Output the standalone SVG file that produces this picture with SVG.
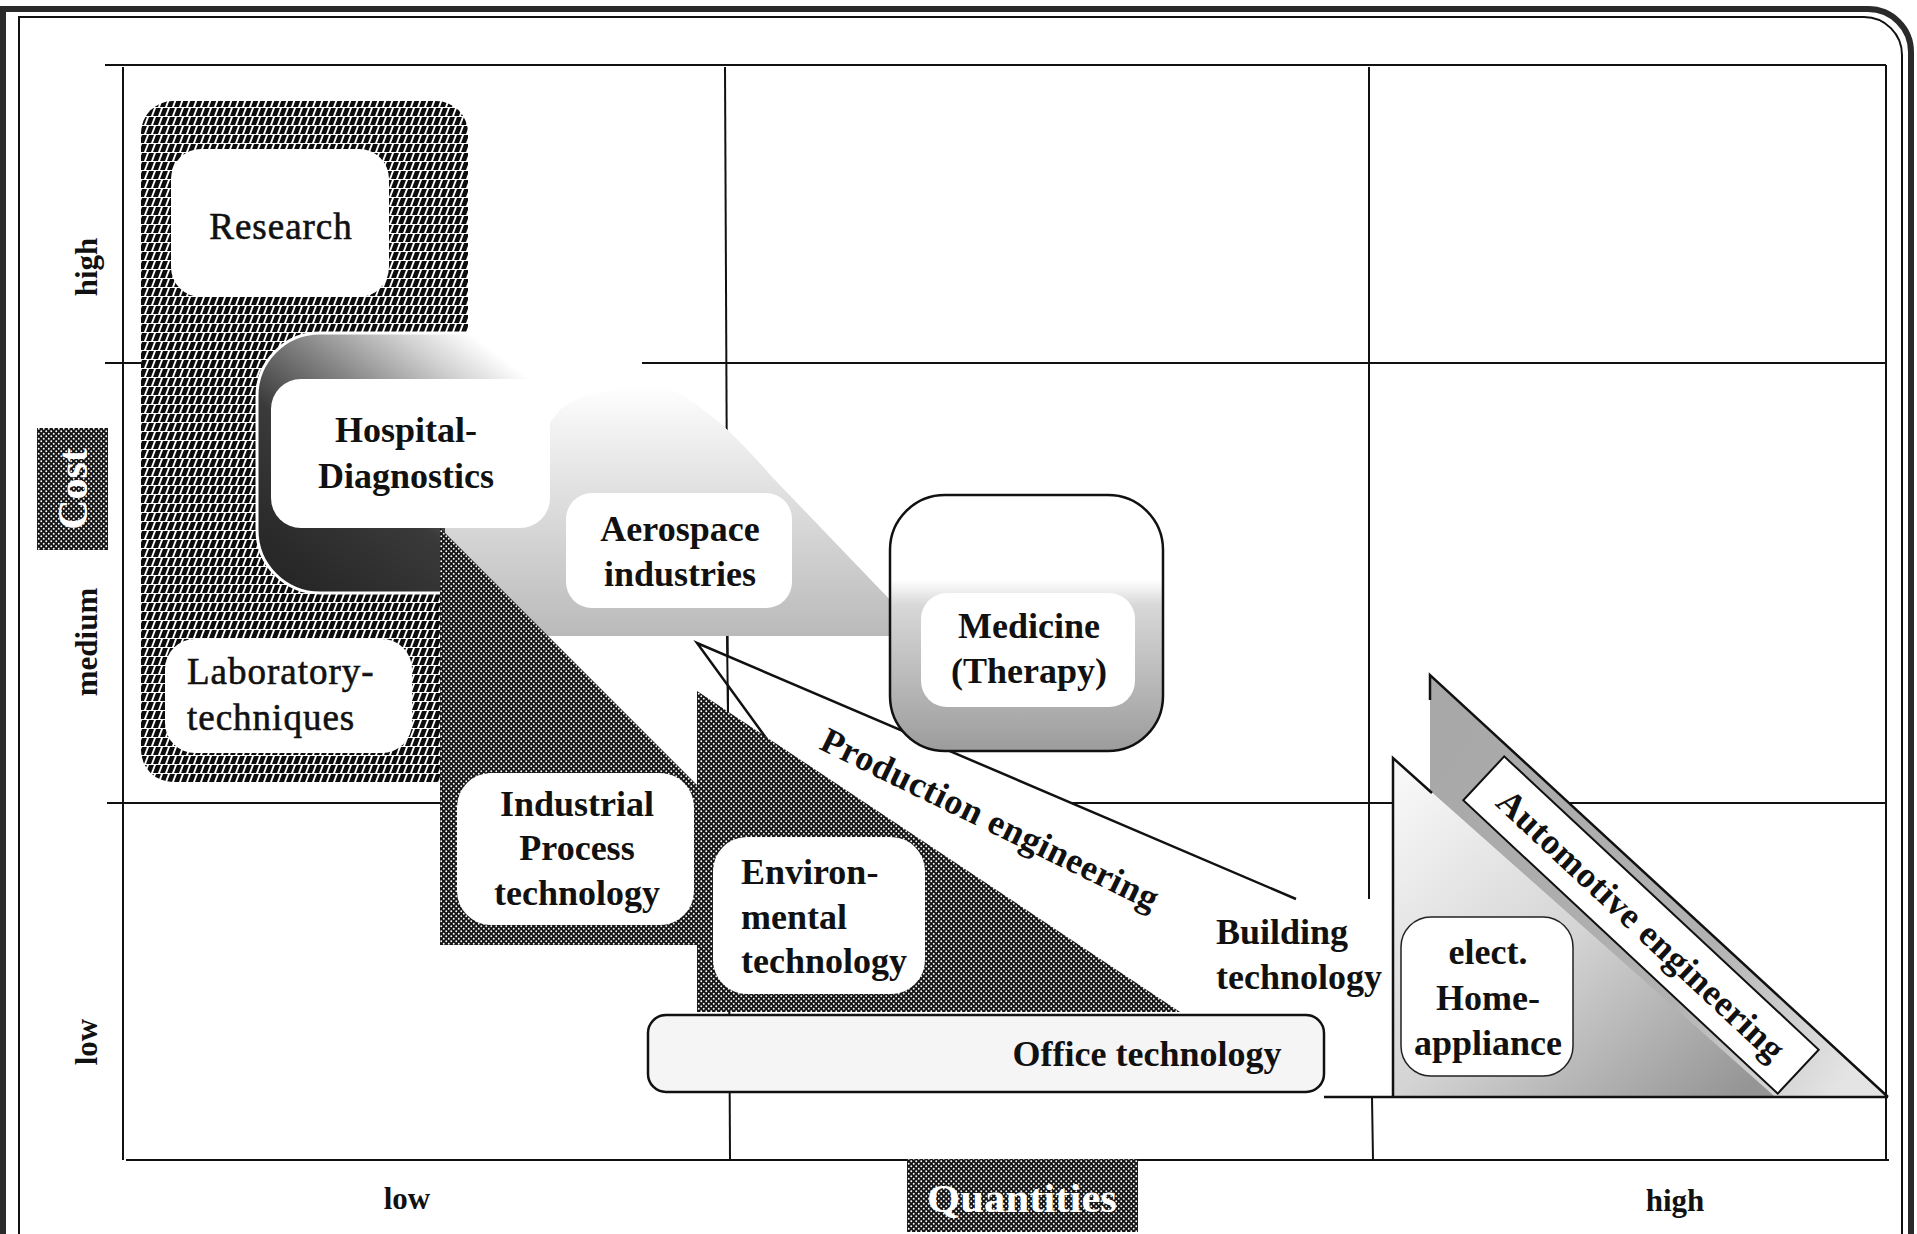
<svg xmlns="http://www.w3.org/2000/svg" width="1917" height="1234" viewBox="0 0 1917 1234">
<style>
  .grid{stroke:#111;stroke-width:2;fill:none}
  .edge{stroke:#111;stroke-width:2.5;fill:none}
  .box{fill:#fff}
  .lbl{font-family:"Liberation Serif","Times New Roman",serif;font-weight:bold;font-size:36px;fill:#111}
  .lbl-r{font-family:"Liberation Serif","Times New Roman",serif;font-weight:normal;font-size:37px;fill:#111;stroke:#111;stroke-width:0.6;letter-spacing:1px}
  .axis{font-family:"Liberation Serif","Times New Roman",serif;font-weight:bold;font-size:31px;fill:#111}
  .inv{font-family:"Liberation Serif","Times New Roman",serif;font-weight:bold;fill:#fff}
  .mid{text-anchor:middle}
</style>
<defs>
  <!-- dense slanted hatch with light row gaps -->
  <pattern id="hatch" width="7" height="9" patternUnits="userSpaceOnUse">
    <rect width="7" height="9" fill="#fff"/>
    <path d="M-1,8 L4,8 L7,0 L2,0 Z M6,8 L11,8 L14,0 L9,0 Z M-8,8 L-3,8 L0,0 L-5,0 Z" fill="#0d0d0d"/>
  </pattern>
  <!-- dark halftone -->
  <pattern id="dots" width="5" height="5" patternUnits="userSpaceOnUse">
    <rect width="5" height="5" fill="#161616"/>
    <circle cx="1.25" cy="1.25" r="0.95" fill="#fff"/>
    <circle cx="3.75" cy="3.75" r="0.95" fill="#fff"/>
  </pattern>
  <!-- light grain laid over grey tones -->
  <pattern id="grain" width="4" height="4" patternUnits="userSpaceOnUse">
    <circle cx="1" cy="1" r="0.8" fill="#fff" fill-opacity="0.45"/>
    <circle cx="3" cy="3" r="0.8" fill="#fff" fill-opacity="0.45"/>
  </pattern>
  <linearGradient id="gHosp" x1="0.05" y1="0.95" x2="0.85" y2="0.05">
    <stop offset="0" stop-color="#252525"/>
    <stop offset="0.4" stop-color="#3a3a3a"/>
    <stop offset="0.62" stop-color="#858585"/>
    <stop offset="0.82" stop-color="#d2d2d2"/>
    <stop offset="0.95" stop-color="#fff"/>
  </linearGradient>
  <linearGradient id="gAero" x1="0" y1="0" x2="0" y2="1">
    <stop offset="0" stop-color="#fefefe"/>
    <stop offset="0.3" stop-color="#e8e8e8"/>
    <stop offset="1" stop-color="#bababa"/>
  </linearGradient>
  <linearGradient id="gMed" x1="0" y1="0" x2="0" y2="1">
    <stop offset="0" stop-color="#fff"/>
    <stop offset="0.33" stop-color="#fff"/>
    <stop offset="0.43" stop-color="#d8d8d8"/>
    <stop offset="1" stop-color="#9c9c9c"/>
  </linearGradient>
  <linearGradient id="gAuto" x1="0" y1="0.2" x2="1" y2="0.8">
    <stop offset="0" stop-color="#a8a8a8"/>
    <stop offset="0.65" stop-color="#b2b2b2"/>
    <stop offset="1" stop-color="#e4e4e4"/>
  </linearGradient>
  <linearGradient id="gHome" x1="0" y1="0.1" x2="0.9" y2="1">
    <stop offset="0" stop-color="#f7f7f7"/>
    <stop offset="0.5" stop-color="#d4d4d4"/>
    <stop offset="1" stop-color="#959595"/>
  </linearGradient>
</defs>

<rect width="1917" height="1234" fill="#fff"/>

<!-- outer double frame -->
<g id="frame" fill="none">
  <path d="M3,1234 V9 H1868 A43 43 0 0 1 1911,52 V1234" stroke="#2a2a2a" stroke-width="6"/>
  <path d="M19,1234 V17 H1864 A38 38 0 0 1 1902,55 V1234" stroke="#111" stroke-width="2"/>
</g>

<!-- grid of the cost/quantity matrix -->
<g id="grid" class="grid">
  <path d="M105,65 H1886"/>
  <path d="M123,67 V1160"/>
  <path d="M126,1160 H1889"/>
  <path d="M1886,65 V1160"/>
  <path d="M725,67 L730,1160"/>
  <path d="M1369,67 V899 M1372,1097 L1373,1160"/>
  <path d="M105,363 H141 M642,363 H1886"/>
  <path d="M107,803 H1886"/>
</g>

<!-- Research / Laboratory area -->
<g id="area-research">
  <rect x="141" y="101" width="327" height="681" rx="32" fill="url(#hatch)"/>
</g>

<!-- Aerospace area -->
<g id="area-aerospace">
  <path id="aeroShape" d="M445,636 V500 C480,470 540,440 560,410 C580,392 620,386 668,388 C705,405 740,440 770,475 L890,600 V636 Z" fill="url(#gAero)"/>
  <use href="#aeroShape" fill="url(#grain)"/>
</g>

<!-- Hospital area -->
<g id="area-hospital">
  <path id="hospShape" d="M560,333 H320 A63 63 0 0 0 257,396 V530 A63 63 0 0 0 320,593 H445 V528 H500 V379 H560 Z" fill="url(#gHosp)"/>
  <use href="#hospShape" fill="url(#grain)"/>
  <path d="M560,333 H320 A63 63 0 0 0 257,396 V530 A63 63 0 0 0 320,593 H445" fill="none" stroke="#fff" stroke-width="3"/>
</g>

<!-- Industrial process area -->
<g id="area-industrial">
  <path d="M440,528 L857,945 H440 Z" fill="url(#dots)"/>
</g>

<!-- Production engineering wedge and building area -->
<g id="area-production">
  <path d="M697,643 L1296,899 H1393 V1092 H1324 V1015 L1180,1012 L780,757 Z" fill="#fff"/>
  <path d="M1296,899 L697,643 L785,764" class="edge" stroke-width="2"/>
  <path d="M727,636 L728,712" class="grid"/>
</g>

<!-- Environmental area -->
<g id="area-environmental">
  <path d="M697,691 L1180,1012 H697 Z" fill="url(#dots)"/>
</g>

<!-- Medicine area -->
<g id="area-medicine">
  <rect id="medShape" x="890" y="495" width="273" height="256" rx="55" fill="url(#gMed)"/>
  <use href="#medShape" fill="url(#grain)"/>
  <rect x="890" y="495" width="273" height="256" rx="55" class="edge"/>
</g>

<!-- Office area -->
<g id="area-office">
  <rect x="648" y="1015" width="676" height="77" rx="18" fill="#f5f5f5" stroke="#111" stroke-width="2.5"/>
</g>

<!-- Automotive and home appliance areas -->
<g id="area-automotive">
  <path id="autoShape" d="M1430,675 L1888,1097 H1430 Z" fill="url(#gAuto)"/>
  <use href="#autoShape" fill="url(#grain)"/>
  <path d="M1430,700 V675 L1888,1097" class="edge"/>
  <path id="homeShape" d="M1393,758 L1775,1097 H1393 Z" fill="url(#gHome)"/>
  <use href="#homeShape" fill="url(#grain)"/>
  <path d="M1393,1097 V758 L1432,793" class="edge" stroke-width="2"/>
  <path d="M1324,1097 H1888" class="edge"/>
</g>

<!-- label boxes and texts -->
<g id="node-research">
  <rect x="171" y="149" width="218" height="148" rx="30" class="box"/>
  <text x="281" y="239" class="lbl-r mid">Research</text>
</g>
<g id="node-hospital">
  <rect x="271" y="379" width="279" height="149" rx="30" class="box"/>
  <text x="406" y="442" class="lbl mid">Hospital-</text>
  <text x="406" y="488" class="lbl mid">Diagnostics</text>
</g>
<g id="node-aerospace">
  <rect x="566" y="493" width="226" height="115" rx="26" class="box"/>
  <text x="680" y="541" class="lbl mid">Aerospace</text>
  <text x="680" y="586" class="lbl mid">industries</text>
</g>
<g id="node-medicine">
  <rect x="921" y="593" width="214" height="114" rx="26" class="box"/>
  <text x="1029" y="638" class="lbl mid">Medicine</text>
  <text x="1029" y="683" class="lbl mid">(Therapy)</text>
</g>
<g id="node-laboratory">
  <rect x="165" y="639" width="247" height="114" rx="30" class="box"/>
  <text x="187" y="684" class="lbl-r">Laboratory-</text>
  <text x="187" y="730" class="lbl-r">techniques</text>
</g>
<g id="node-industrial">
  <rect x="457" y="773" width="237" height="152" rx="34" class="box"/>
  <text x="577" y="816" class="lbl mid">Industrial</text>
  <text x="577" y="860" class="lbl mid">Process</text>
  <text x="577" y="905" class="lbl mid">technology</text>
</g>
<g id="node-environmental">
  <rect x="713" y="837" width="212" height="157" rx="34" class="box"/>
  <text x="741" y="884" class="lbl">Environ-</text>
  <text x="741" y="929" class="lbl">mental</text>
  <text x="741" y="973" class="lbl">technology</text>
</g>
<g id="node-production">
  <text transform="translate(990,819) rotate(26)" y="12" class="lbl mid" textLength="371">Production engineering</text>
</g>
<g id="node-building">
  <text x="1216" y="944" class="lbl">Building</text>
  <text x="1216" y="989" class="lbl">technology</text>
</g>
<g id="node-office">
  <text x="1147" y="1066" class="lbl mid">Office technology</text>
</g>
<g id="node-home">
  <rect x="1401" y="917" width="172" height="159" rx="30" fill="#fff" stroke="#222" stroke-width="1.5"/>
  <text x="1488" y="964" class="lbl mid">elect.</text>
  <text x="1488" y="1010" class="lbl mid">Home-</text>
  <text x="1488" y="1055" class="lbl mid">appliance</text>
</g>
<g id="node-automotive" transform="translate(1641,925) rotate(43)">
  <rect x="-215" y="-30" width="430" height="60" fill="#fff" stroke="#111" stroke-width="2"/>
  <text y="12" class="lbl mid" textLength="379">Automotive engineering</text>
</g>

<!-- axes -->
<g id="axis-cost">
  <rect x="37" y="428" width="71" height="122" fill="url(#dots)"/>
  <text transform="translate(72,489) rotate(-90)" y="15" class="inv mid" font-size="42">Cost</text>
  <text transform="translate(86,267) rotate(-90)" y="11" class="axis mid">high</text>
  <text transform="translate(86,642) rotate(-90)" y="11" class="axis mid">medium</text>
  <text transform="translate(86,1042) rotate(-90)" y="11" class="axis mid">low</text>
</g>
<g id="axis-quantities">
  <rect x="907" y="1159" width="231" height="73" fill="url(#dots)"/>
  <text x="1022" y="1212" class="inv mid" font-size="39" textLength="190" lengthAdjust="spacingAndGlyphs">Quantities</text>
  <text x="407" y="1209" class="axis mid">low</text>
  <text x="1675" y="1211" class="axis mid">high</text>
</g>
</svg>
